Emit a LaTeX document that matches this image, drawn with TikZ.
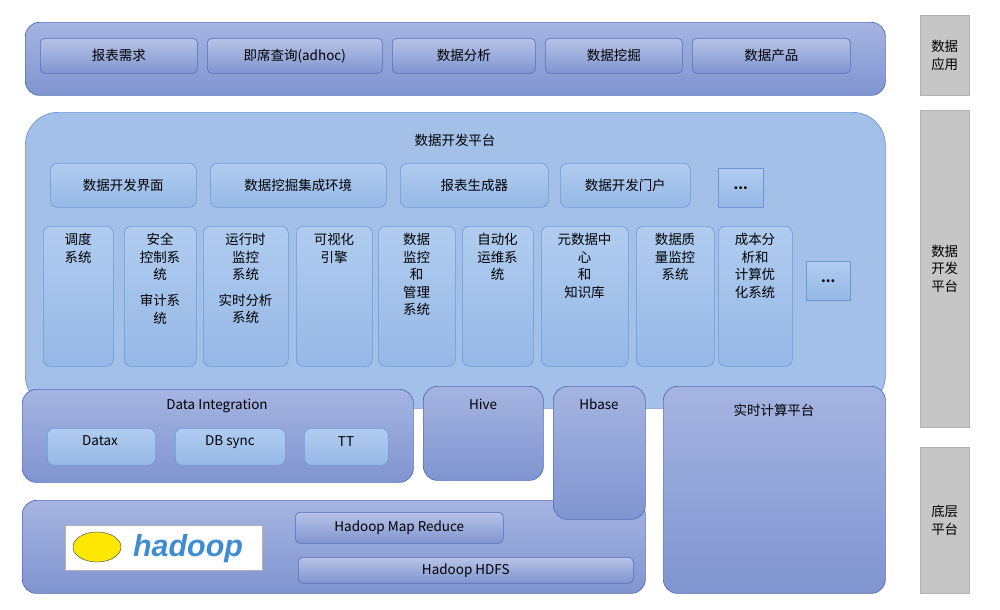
\documentclass[tikz,border=0pt]{standalone}
\usepackage{fontspec}
\setmainfont{Noto Sans CJK SC}
\newfontfamily\logofont{Liberation Sans}
\usetikzlibrary{positioning}

\definecolor{pantop}{RGB}{165,180,225}
\definecolor{panbot}{RGB}{128,148,208}
\definecolor{panline}{RGB}{80,110,190}
\definecolor{devfill}{RGB}{163,192,232}
\definecolor{tiletop}{RGB}{176,204,240}
\definecolor{tilebot}{RGB}{150,184,230}
\definecolor{tileline}{RGB}{110,150,215}

% px: one pixel of the layout
\newcommand\blk[7]{%
  \node[#1,anchor=north west,minimum width={(#4-#2)*0.3mm},minimum height={(#5-#3)*0.3mm}] (#6) at (#2,#3) {#7};}

\begin{document}
\begin{tikzpicture}[x=0.3mm,y=-0.3mm,
    font=\fontsize{11.5}{15}\selectfont,
    panel/.style={draw=panline,line width=0.6pt,rounded corners=12pt,top color=pantop,bottom color=panbot,inner sep=0},
    devpanel/.style={draw=tileline,line width=0.6pt,rounded corners=28pt,fill=devfill,inner sep=0},
    item/.style={draw=panline,line width=0.5pt,rounded corners=4pt,top color=pantop!80!white,bottom color=panbot,inner sep=0},
    tile/.style={draw=tileline,line width=0.5pt,rounded corners=6pt,top color=tiletop,bottom color=tilebot,inner sep=0},
    side/.style={draw=gray!60,fill=gray!45,align=center,inner sep=0}]

  \useasboundingbox (0,0) rectangle (1000,609);

  % application layer
  \blk{panel}{25}{22}{885}{95}{app}{}
  \blk{item}{40}{38}{197}{73}{a1}{报表需求}
  \blk{item}{207}{38}{382}{73}{a2}{即席查询(adhoc)}
  \blk{item}{392}{38}{535}{73}{a3}{数据分析}
  \blk{item}{545}{38}{682}{73}{a4}{数据挖掘}
  \blk{item}{692}{38}{850}{73}{a5}{数据产品}

  % development platform
  \blk{devpanel}{25}{112}{885}{408}{dev}{}
  \node (devt) at (455,140) {数据开发平台};
  \blk{tile}{50}{163}{196}{207}{d1}{数据开发界面}
  \blk{tile}{210}{163}{386}{207}{d2}{数据挖掘集成环境}
  \blk{tile}{400}{163}{548}{207}{d3}{报表生成器}
  \blk{tile}{560}{163}{690}{207}{d4}{数据开发门户}
  \blk{tile,rounded corners=0pt}{718}{168}{763}{207}{d5}{\textbf{...}}

  \foreach \xa/\xb/\n/\t in {
      43/113/s1/{调度\\系统},
      124/196/s2/{安全\\控制系\\统\\[0.6em]审计系\\统},
      203/288/s3/{运行时\\监控\\系统\\[0.6em]实时分析\\系统},
      296/372/s4/{可视化\\引擎},
      378/455/s5/{数据\\监控\\和\\管理\\系统},
      462/533/s6/{自动化\\运维系\\统},
      541/628/s7/{元数据中\\心\\和\\知识库},
      636/714/s8/{数据质\\量监控\\系统},
      718/792/s9/{成本分\\析和\\计算优\\化系统}}{
    \blk{tile}{\xa}{226}{\xb}{366}{\n}{}
    \node[align=center,anchor=north,inner sep=0] at ({(\xa+\xb)/2},233) {\t};
  }
  \blk{tile,rounded corners=0pt}{806}{261}{850}{300}{s10}{\textbf{...}}

  % lower platforms
  \blk{panel}{22}{389}{413}{482}{di}{}
  \node at (217,406) {Data Integration};
  \blk{tile}{47}{428}{155}{465}{i1}{}
  \node at (100,441) {Datax};
  \blk{tile}{175}{428}{285}{465}{i2}{}
  \node at (230,442) {DB sync};
  \blk{tile}{304}{428}{388}{465}{i3}{}
  \node at (346,442) {TT};

  \blk{panel}{423}{386}{543}{480}{hive}{}
  \node at (483,404) {Hive};
  \blk{panel}{22}{500}{645}{593}{base}{}
  \blk{panel}{553}{386}{645}{519}{hbase}{}
  \node at (599,404) {Hbase};
  \blk{panel}{663}{386}{885}{593}{rt}{}
  \node at (774,410) {实时计算平台};

  \blk{item}{295}{512}{503}{543}{mr}{Hadoop Map Reduce}
  \blk{item}{298}{557}{633}{583}{hdfs}{Hadoop HDFS}

  % hadoop logo
  \blk{draw=gray!60,fill=white,inner sep=0}{65}{525}{262}{570}{logo}{}
  \fill[yellow!90!orange,draw=black!70,line width=0.4pt] (97,547) ellipse (24 and 15);
  \node[font=\logofont\fontsize{26}{26}\selectfont\bfseries\itshape,text=cyan!60!blue!80!white,inner sep=0] (hd) at (188,549) {hadoop};

  % side labels
  \blk{side}{920}{15}{969}{95}{l1}{数据\\应用}
  \blk{side}{920}{110}{969}{427}{l2}{数据\\开发\\平台}
  \blk{side}{920}{447}{969}{593}{l3}{底层\\平台}
\end{tikzpicture}
\end{document}
